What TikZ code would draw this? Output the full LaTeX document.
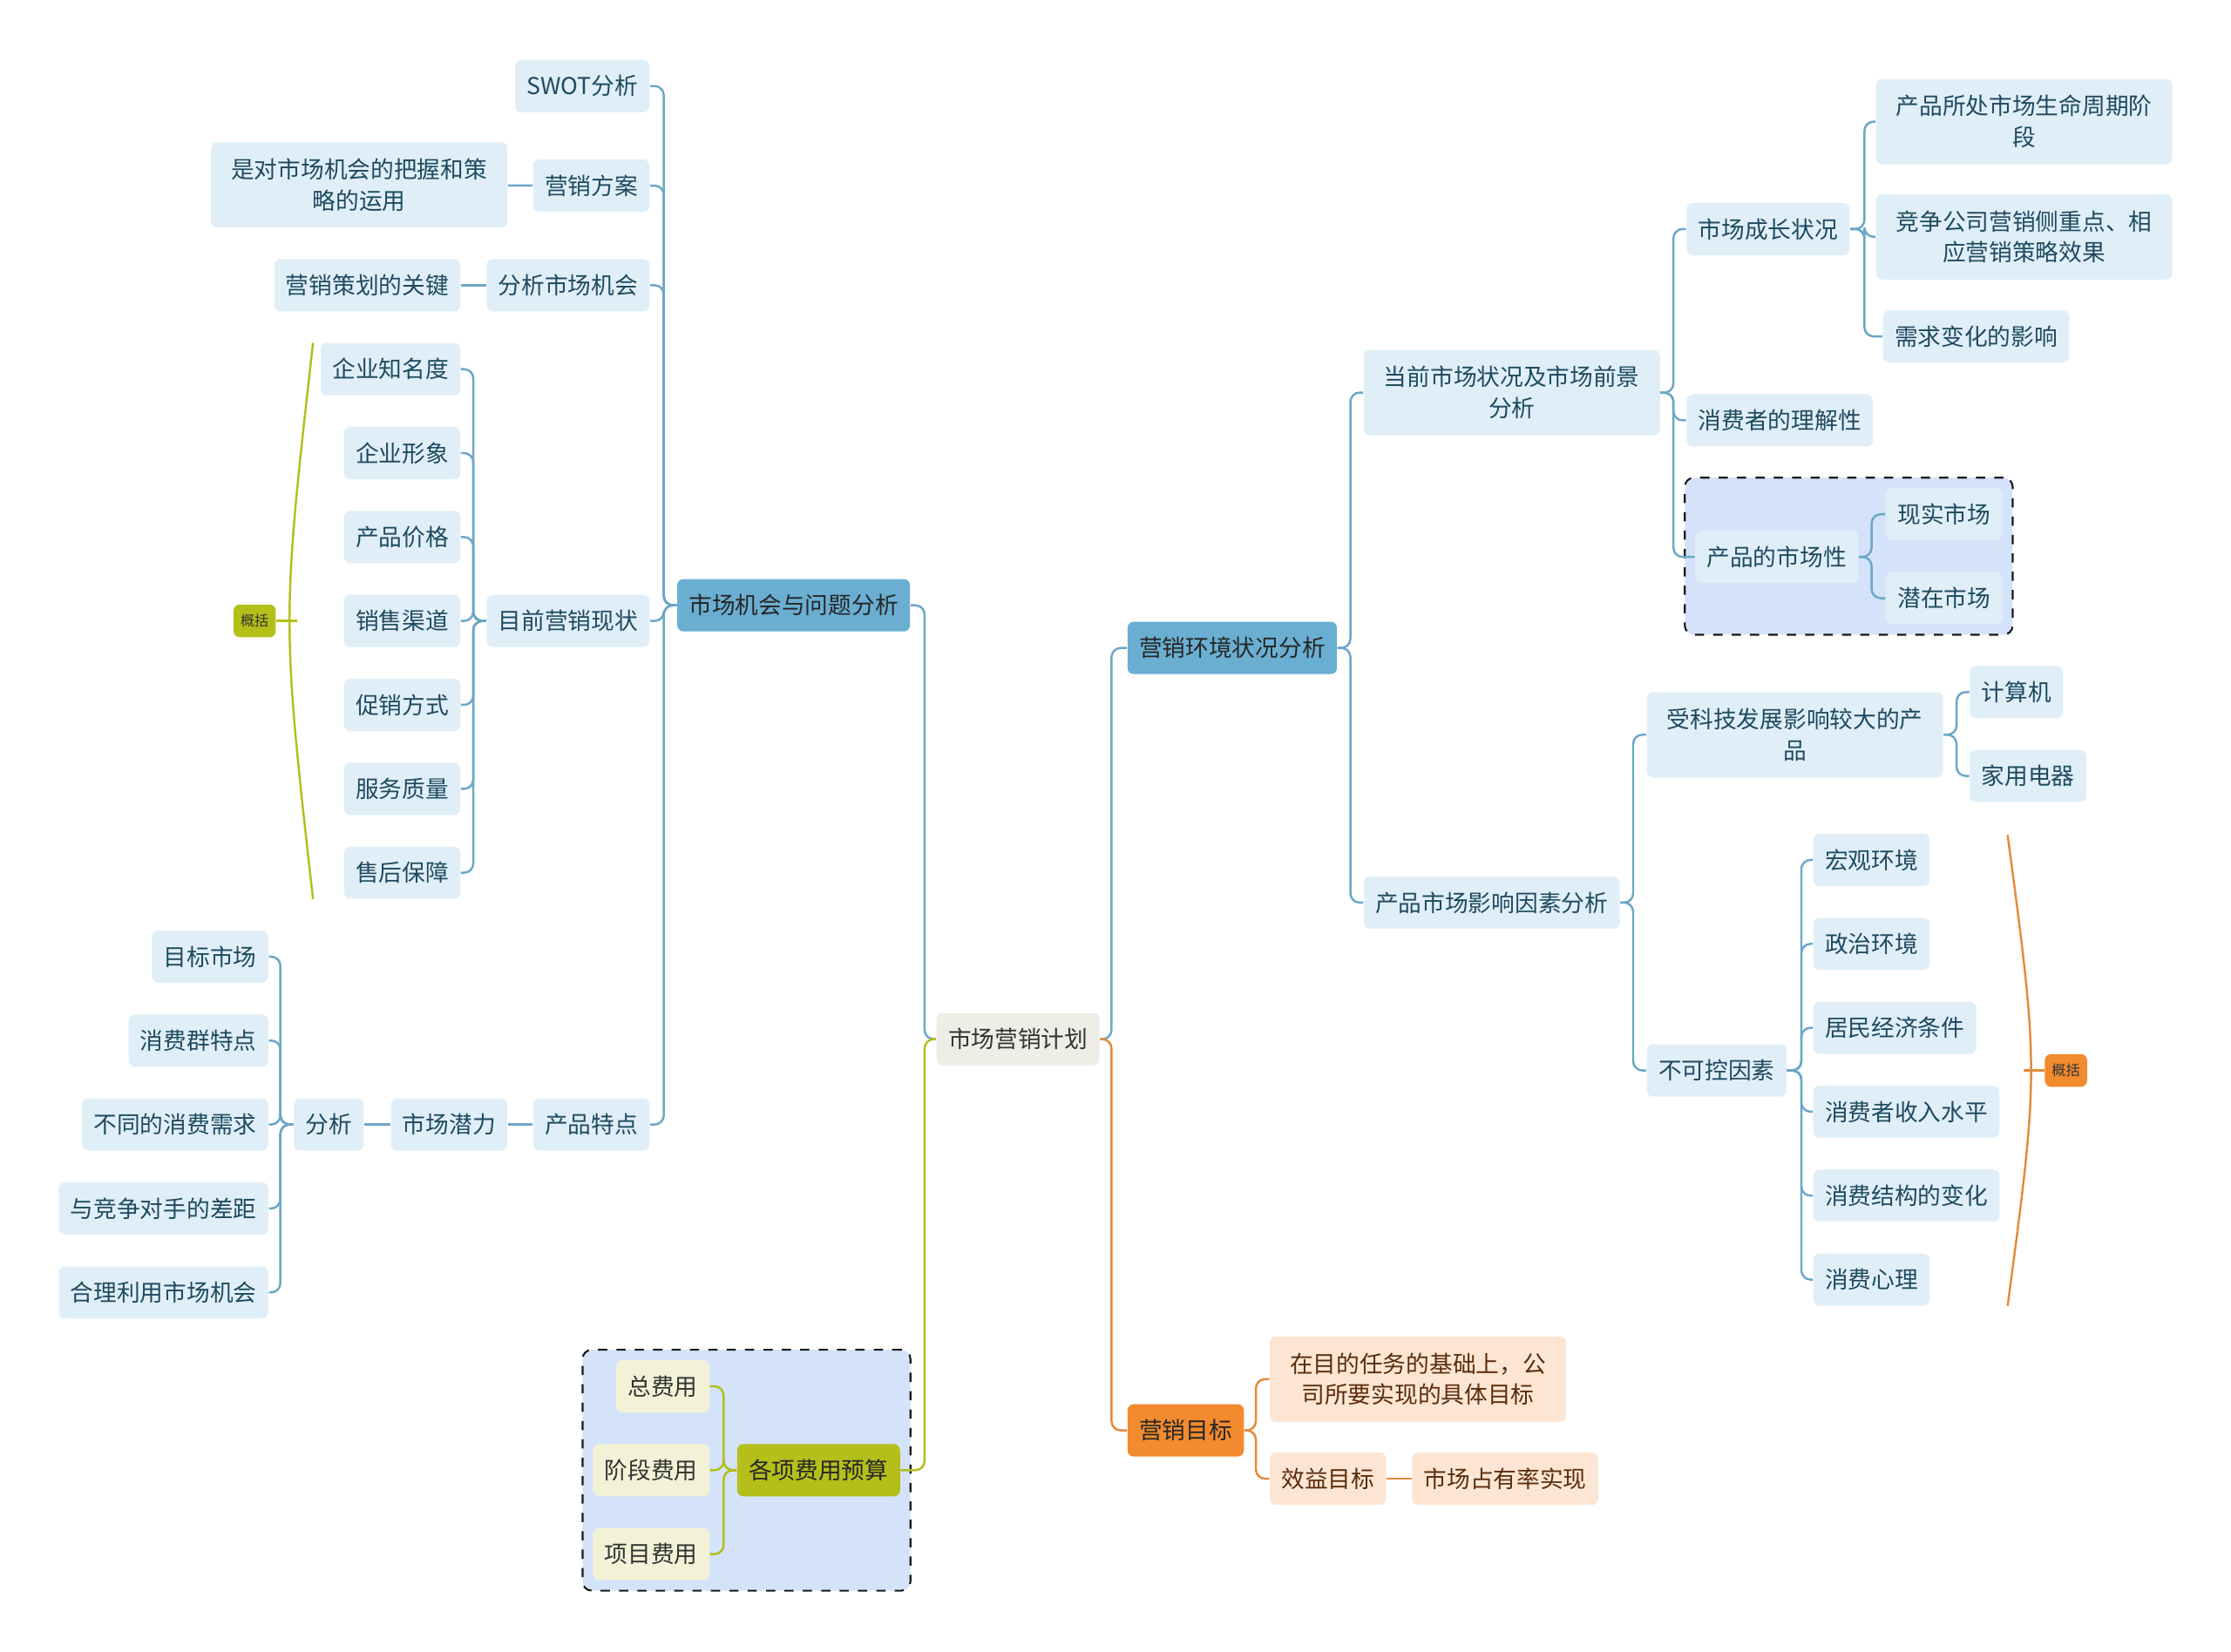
\documentclass[tikz,border=0pt]{standalone}
\usepackage{fontspec}
\setmainfont{Noto Sans CJK SC}
\usepackage{tikz}
\usetikzlibrary{positioning,fit,backgrounds}
\definecolor{topblue}{HTML}{6AAFD2}
\definecolor{paleblue}{HTML}{E0EFF7}
\definecolor{inkblue}{HTML}{1E4A60}
\definecolor{lineblue}{HTML}{6BA7C6}
\definecolor{rootgray}{HTML}{EEEDE6}
\definecolor{goalorange}{HTML}{F28A2E}
\definecolor{peach}{HTML}{FCE5D3}
\definecolor{inkbrown}{HTML}{5A2D0C}
\definecolor{lineorange}{HTML}{E48A3C}
\definecolor{budgetolive}{HTML}{B5BF1A}
\definecolor{paleolive}{HTML}{F2F2D6}
\definecolor{groupblue}{HTML}{D4E3FA}

\begin{document}
\begin{tikzpicture}[
  x=0.016327cm, y=-0.016327cm,
  every node/.style={font=\fontsize{7.6}{10.2}\selectfont},
  basenode/.style={
    rounded corners=2pt, align=center,
    inner xsep=3.8pt, inner ysep=2pt, minimum height=0.6cm
  },
  topnode/.style={basenode, fill=topblue, text=black!85},
  lnode/.style={basenode, fill=paleblue, text=inkblue},
  wnode/.style={lnode, minimum width=3.4cm, minimum height=0.98cm},
  rootnode/.style={basenode, fill=rootgray, text=black!80},
  gnode/.style={basenode, fill=goalorange, text=black!85},
  pnode/.style={basenode, fill=peach, text=inkbrown},
  bnode/.style={basenode, fill=budgetolive, text=black!85},
  ynode/.style={basenode, fill=paleolive, text=black!80},
  sumnode/.style={
    rounded corners=2pt, inner xsep=2.3pt, inner ysep=1pt,
    minimum height=0.375cm, font=\fontsize{4.6}{5}\selectfont
  },
  grpbox/.style={
    draw=black!90, dashed, fill=groupblue,
    rounded corners=3pt, inner sep=3.2pt, line width=0.6pt
  },
  bl/.style={draw=lineblue, line width=0.7pt, rounded corners=3pt},
  ol/.style={draw=lineorange, line width=0.7pt, rounded corners=3pt},
  yl/.style={draw=budgetolive, line width=0.7pt, rounded corners=3pt}
]
\useasboundingbox (0,0) rectangle (1568,1161);

\node[rootnode] (plan) at (715.5,730.5) {市场营销计划};

%% Gauche : marché et problèmes
\node[topnode, anchor=east] (chance) at (640,425.5) {市场机会与问题分析};
\node[lnode, anchor=east] (swot)   at (457,60.5)  {SWOT分析};
\node[lnode, anchor=east] (fangan) at (457,130.5) {营销方案};
\node[wnode, anchor=east] (yunyong) at (357,130) {是对市场机会的把握和策\\略的运用};
\node[lnode, anchor=east] (jihui)  at (457,200.5) {分析市场机会};
\node[lnode, anchor=east] (guanjian) at (324,200.5) {营销策划的关键};
\node[lnode, anchor=east] (xianzhuang) at (457,436.5) {目前营销现状};
\node[lnode, anchor=east] (zhiming)   at (324,259.5) {企业知名度};
\node[lnode, anchor=east] (xingxiang) at (324,318.5) {企业形象};
\node[lnode, anchor=east] (jiage)     at (324,377.5) {产品价格};
\node[lnode, anchor=east] (qudao)     at (324,436.5) {销售渠道};
\node[lnode, anchor=east] (cuxiao)    at (324,495.5) {促销方式};
\node[lnode, anchor=east] (fuwu)      at (324,554.5) {服务质量};
\node[lnode, anchor=east] (shouhou)   at (324,613.5) {售后保障};
\node[lnode, anchor=east] (tedian) at (457,790.5) {产品特点};
\node[lnode, anchor=east] (qianli) at (357,790.5) {市场潜力};
\node[lnode, anchor=east] (fenxi)  at (256,790.5) {分析};
\node[lnode, anchor=east] (mubiao) at (189,672.5) {目标市场};
\node[lnode, anchor=east] (qunti)  at (189,731.5) {消费群特点};
\node[lnode, anchor=east] (xuqiu)  at (189,790.5) {不同的消费需求};
\node[lnode, anchor=east] (chaju)  at (189,849.5) {与竞争对手的差距};
\node[lnode, anchor=east] (liyong) at (189,908.5) {合理利用市场机会};
\node[sumnode, fill=budgetolive, text=black!80] (sumleft) at (179,436.5) {概括};

%% Gauche : budget
\node[bnode, anchor=east] (gexiang) at (633,1033.5) {各项费用预算};
\node[ynode, anchor=east] (zong)    at (499,974.5)  {总费用};
\node[ynode, anchor=east] (jieduan) at (499,1033.5) {阶段费用};
\node[ynode, anchor=east] (xiangmu) at (499,1092.5) {项目费用};

%% Droite : environnement
\node[topnode, anchor=west] (huanjing) at (792,455.5) {营销环境状况分析};
\node[wnode, anchor=west] (dangqian) at (958,276) {当前市场状况及市场前景\\分析};
\node[lnode, anchor=west] (chengzhang) at (1185,161) {市场成长状况};
\node[wnode, anchor=west] (zhouqi) at (1318,85.5) {产品所处市场生命周期阶\\段};
\node[wnode, anchor=west] (jingzheng) at (1318,166.5) {竞争公司营销侧重点、相\\应营销策略效果};
\node[lnode, anchor=west] (bianhua) at (1323,236.5) {需求变化的影响};
\node[lnode, anchor=west] (lijie) at (1185,295.5) {消费者的理解性};
\node[lnode, anchor=west] (shichangxing) at (1191,391.5) {产品的市场性};
\node[lnode, anchor=west] (xianshi) at (1325,361.5) {现实市场};
\node[lnode, anchor=west] (qianzai) at (1325,420.5) {潜在市场};
\node[lnode, anchor=west] (yinsu) at (958,634.5) {产品市场影响因素分析};
\node[wnode, anchor=west] (keji) at (1157,516.5) {受科技发展影响较大的产\\品};
\node[lnode, anchor=west] (jisuanji) at (1384,486.5) {计算机};
\node[lnode, anchor=west] (dianqi) at (1384,545.5) {家用电器};
\node[lnode, anchor=west] (bukekong) at (1157,752.5) {不可控因素};
\node[lnode, anchor=west] (hongguan) at (1274,604.5) {宏观环境};
\node[lnode, anchor=west] (zhengzhi) at (1274,663.5) {政治环境};
\node[lnode, anchor=west] (jingji)   at (1274,722.5) {居民经济条件};
\node[lnode, anchor=west] (shouru)   at (1274,781.5) {消费者收入水平};
\node[lnode, anchor=west] (jiegou)   at (1274,840.5) {消费结构的变化};
\node[lnode, anchor=west] (xinli)    at (1274,899.5) {消费心理};
\node[sumnode, fill=goalorange, text=black!80] (sumright) at (1452,752.5) {概括};

%% Droite : objectifs
\node[gnode, anchor=west] (mubiao2) at (792,1005.5) {营销目标};
\node[pnode, minimum width=3.4cm, minimum height=0.98cm, anchor=west] (jutimubiao) at (892,969.5) {在目的任务的基础上，公\\司所要实现的具体目标};
\node[pnode, anchor=west] (xiaoyi) at (892,1039.5) {效益目标};
\node[pnode, anchor=west] (zhanyoulv) at (992,1039.5) {市场占有率实现};

%% Cadres en pointillés
\begin{scope}[on background layer]
  \node[grpbox, fit=(zong)(jieduan)(xiangmu)(gexiang)] (budgetgrp) {};
  \node[grpbox, fit=(shichangxing)(xianshi)(qianzai)] (marketgrp) {};
\end{scope}

%% Racine
\draw[bl] (plan.west) -- ++(-8,0) |- (chance.east);
\draw[yl] (plan.west) -- ++(-8,0) |- (gexiang.east);
\draw[bl] (plan.east) -- ++(8,0) |- (huanjing.west);
\draw[ol] (plan.east) -- ++(8,0) |- (mubiao2.west);

%% Analyse des opportunités
\draw[bl] (chance.west) -- ++(-9,0) |- (swot.east);
\draw[bl] (chance.west) -- ++(-9,0) |- (fangan.east);
\draw[bl] (chance.west) -- ++(-9,0) |- (jihui.east);
\draw[bl] (chance.west) -- ++(-9,0) |- (xianzhuang.east);
\draw[bl] (chance.west) -- ++(-9,0) |- (tedian.east);
\draw[bl] (fangan) -- (yunyong);
\draw[bl] (jihui) -- (guanjian);
\draw[bl] (xianzhuang.west) -- ++(-9,0) |- (zhiming.east);
\draw[bl] (xianzhuang.west) -- ++(-9,0) |- (xingxiang.east);
\draw[bl] (xianzhuang.west) -- ++(-9,0) |- (jiage.east);
\draw[bl] (xianzhuang.west) -- ++(-9,0) |- (qudao.east);
\draw[bl] (xianzhuang.west) -- ++(-9,0) |- (cuxiao.east);
\draw[bl] (xianzhuang.west) -- ++(-9,0) |- (fuwu.east);
\draw[bl] (xianzhuang.west) -- ++(-9,0) |- (shouhou.east);
\draw[bl] (tedian) -- (qianli);
\draw[bl] (qianli) -- (fenxi);
\draw[bl] (fenxi.west) -- ++(-9,0) |- (mubiao.east);
\draw[bl] (fenxi.west) -- ++(-9,0) |- (qunti.east);
\draw[bl] (fenxi.west) -- ++(-9,0) |- (xuqiu.east);
\draw[bl] (fenxi.west) -- ++(-9,0) |- (chaju.east);
\draw[bl] (fenxi.west) -- ++(-9,0) |- (liyong.east);

%% Accolade "概括" à gauche
\coordinate (sumLtop) at (220,241);
\coordinate (sumLbot) at (220,632);
\coordinate (sumLmid) at (209,436.5);
\draw[budgetolive, line width=0.7pt] (sumLtop) .. controls (198,436.5) .. (sumLbot);
\draw[budgetolive, line width=0.7pt] (sumLmid) -- (sumleft.east);

%% Budget
\draw[yl] (gexiang.west) -- ++(-9,0) |- (zong.east);
\draw[yl] (gexiang.west) -- ++(-9,0) |- (jieduan.east);
\draw[yl] (gexiang.west) -- ++(-9,0) |- (xiangmu.east);

%% Environnement
\draw[bl] (huanjing.east) -- ++(9,0) |- (dangqian.west);
\draw[bl] (huanjing.east) -- ++(9,0) |- (yinsu.west);
\draw[bl] (dangqian.east) -- ++(9,0) |- (chengzhang.west);
\draw[bl] (dangqian.east) -- ++(9,0) |- (lijie.west);
\draw[bl] (dangqian.east) -- ++(9,0) |- (shichangxing.west);
\draw[bl] (chengzhang.east) -- ++(10,0) |- (zhouqi.west);
\draw[bl] (chengzhang.east) -- ++(10,0) |- (jingzheng.west);
\draw[bl] (chengzhang.east) -- ++(10,0) |- (bianhua.west);
\draw[bl] (shichangxing.east) -- ++(9,0) |- (xianshi.west);
\draw[bl] (shichangxing.east) -- ++(9,0) |- (qianzai.west);
\draw[bl] (yinsu.east) -- ++(9,0) |- (keji.west);
\draw[bl] (yinsu.east) -- ++(9,0) |- (bukekong.west);
\draw[bl] (keji.east) -- ++(9,0) |- (jisuanji.west);
\draw[bl] (keji.east) -- ++(9,0) |- (dianqi.west);
\draw[bl] (bukekong.east) -- ++(10,0) |- (hongguan.west);
\draw[bl] (bukekong.east) -- ++(10,0) |- (zhengzhi.west);
\draw[bl] (bukekong.east) -- ++(10,0) |- (jingji.west);
\draw[bl] (bukekong.east) -- ++(10,0) |- (shouru.west);
\draw[bl] (bukekong.east) -- ++(10,0) |- (jiegou.west);
\draw[bl] (bukekong.east) -- ++(10,0) |- (xinli.west);

%% Accolade "概括" à droite
\coordinate (sumRtop) at (1411,587);
\coordinate (sumRbot) at (1411,918);
\coordinate (sumRmid) at (1422,752.5);
\draw[lineorange, line width=0.7pt] (sumRtop) .. controls (1433,752.5) .. (sumRbot);
\draw[lineorange, line width=0.7pt] (sumRmid) -- (sumright.west);

%% Objectifs
\draw[ol] (mubiao2.east) -- ++(8,0) |- (jutimubiao.west);
\draw[ol] (mubiao2.east) -- ++(8,0) |- (xiaoyi.west);
\draw[ol] (xiaoyi) -- (zhanyoulv);

\end{tikzpicture}
\end{document}
